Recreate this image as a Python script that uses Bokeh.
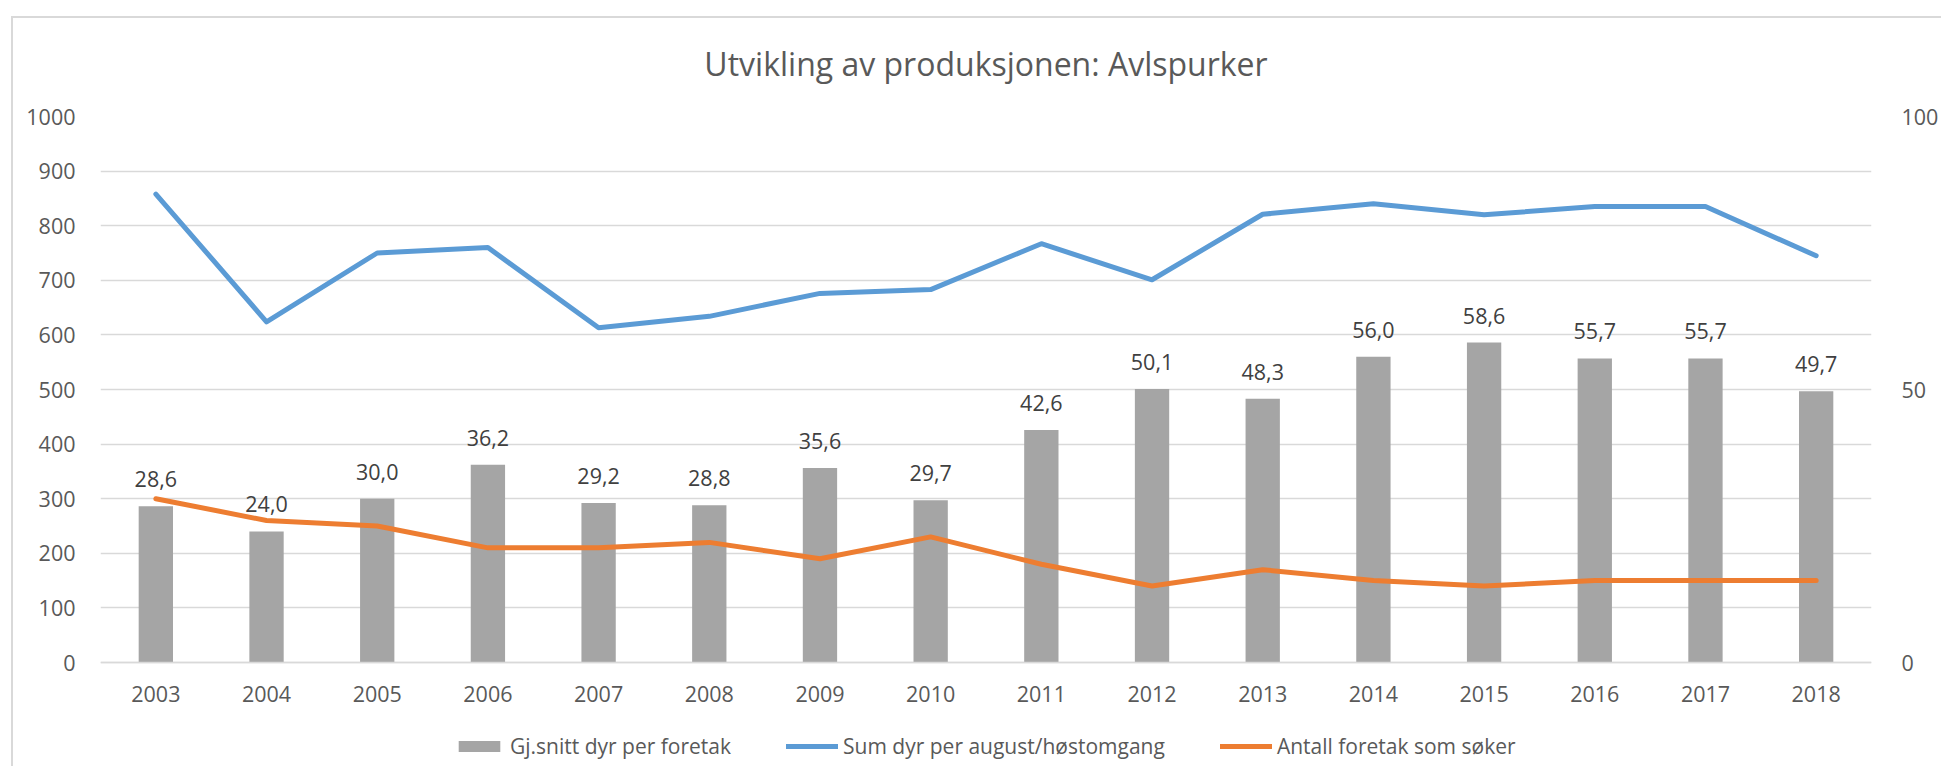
from bokeh.plotting import figure
from bokeh.models import (FactorRange, Range1d, LinearAxis, FixedTicker, ColumnDataSource,
                          Legend, LegendItem)
from bokeh.core.properties import value
from bokeh.embed import file_html
from bokeh.resources import INLINE

# ---- data ----
years = ["2003", "2004", "2005", "2006", "2007", "2008", "2009", "2010",
         "2011", "2012", "2013", "2014", "2015", "2016", "2017", "2018"]
avg_per_farm = [28.6, 24.0, 30.0, 36.2, 29.2, 28.8, 35.6, 29.7,
                42.6, 50.1, 48.3, 56.0, 58.6, 55.7, 55.7, 49.7]
sum_animals = [858, 624, 750, 760, 613, 634, 676, 683,
               767, 701, 821, 840, 820, 835, 835, 745]
num_farms = [30, 26, 25, 21, 21, 22, 19, 23,
             18, 14, 17, 15, 14, 15, 15, 15]
left_ticks = [0, 100, 200, 300, 400, 500, 600, 700, 800, 900, 1000]
right_ticks = [0, 50, 100]
title_text = "Utvikling av produksjonen: Avlspurker"
series_names = ["Gj.snitt dyr per foretak", "Sum dyr per august/høstomgang",
                "Antall foretak som søker"]

FONT = "Open Sans"
TXT = "#595959"
GRID = "#D9D9D9"
FS = "21.5px"

W, H = 1941, 766
TOP, LEFT, RIGHT = 116, 100, 62
AXIS_PX = 546                      # pixels from 0 to 1000 on the left axis
FRAME_H = H - TOP
y_lo = -1000 * (FRAME_H - AXIS_PX) / AXIS_PX   # room under the zero line for labels + legend

src = ColumnDataSource(dict(
    year=years, avg=avg_per_farm, total=sum_animals, farms=num_farms,
    lab=[f"{v:.1f}".replace(".", ",") for v in avg_per_farm],
))

p = figure(width=W, height=H,
           x_range=FactorRange(factors=years, range_padding=0),
           y_range=Range1d(y_lo, 1000),
           output_backend="svg", toolbar_location=None,
           min_border_left=LEFT, min_border_right=RIGHT,
           min_border_top=TOP, min_border_bottom=0,
           title=title_text)
p.extra_y_ranges = {"right": Range1d(y_lo / 10, 100)}
p.outline_line_color = None
p.background_fill_color = "white"
p.border_fill_alpha = 0
p.styles = {
    "background": ("linear-gradient(#D9D9D9,#D9D9D9) 11px 16px / 2px 100% no-repeat, "
                   "linear-gradient(#D9D9D9,#D9D9D9) 11px 16px / 100% 2px no-repeat, white"),
}

p.title.text_font = FONT
p.title.text_font_size = "32px"
p.title.text_font_style = "normal"
p.title.text_color = TXT
p.title.align = "center"
p.title.standoff = 64

# left axis
p.yaxis.ticker = FixedTicker(ticks=left_ticks)
p.yaxis.axis_line_color = None
p.yaxis.major_tick_line_color = None
p.yaxis.minor_tick_line_color = None
p.yaxis.major_label_text_font = FONT
p.yaxis.major_label_text_font_size = FS
p.yaxis.major_label_text_color = TXT
p.yaxis.major_label_standoff = 19
p.ygrid.grid_line_color = GRID
p.ygrid.grid_line_width = 1.5
p.xgrid.grid_line_color = None

# x axis, pinned to the zero line
p.xaxis.fixed_location = 0
p.xaxis.axis_line_color = GRID
p.xaxis.axis_line_width = 1.5
p.xaxis.major_tick_line_color = None
p.xaxis.minor_tick_line_color = None
p.xaxis.major_label_text_font = FONT
p.xaxis.major_label_text_font_size = FS
p.xaxis.major_label_text_color = TXT
p.xaxis.major_label_standoff = 17

# right axis
rax = LinearAxis(y_range_name="right", ticker=FixedTicker(ticks=right_ticks))
rax.axis_line_color = None
rax.major_tick_line_color = None
rax.minor_tick_line_color = None
rax.major_label_text_font = FONT
rax.major_label_text_font_size = FS
rax.major_label_text_color = TXT
rax.major_label_standoff = 24
p.add_layout(rax, "right")

bars = p.vbar(x="year", top="avg", width=0.31, source=src, y_range_name="right",
              fill_color="#A5A5A5", line_color=None)
blue = p.line(x="year", y="total", source=src, line_width=5, line_color="#5B9BD5",
              line_join="round", line_cap="round")
orange = p.line(x="year", y="farms", source=src, y_range_name="right", line_width=5,
                line_color="#ED7D31", line_join="round", line_cap="round")
p.text(x="year", y="avg", text="lab", source=src, y_range_name="right",
       text_align="center", text_baseline="alphabetic", y_offset=-27,
       text_font=value(FONT), text_font_size=FS, text_color="#404040")

legend = Legend(items=[LegendItem(label=series_names[0], renderers=[bars]),
                       LegendItem(label=series_names[1], renderers=[blue]),
                       LegendItem(label=series_names[2], renderers=[orange])],
                orientation="horizontal", location=(353, 6),
                glyph_width=52, glyph_height=14, label_standoff=5, spacing=55,
                padding=0, margin=0, border_line_color=None,
                background_fill_alpha=0,
                label_text_font=FONT, label_text_font_size="21px",
                label_text_color=TXT)
p.add_layout(legend)

open("out.html", "w").write(file_html(p, INLINE))
